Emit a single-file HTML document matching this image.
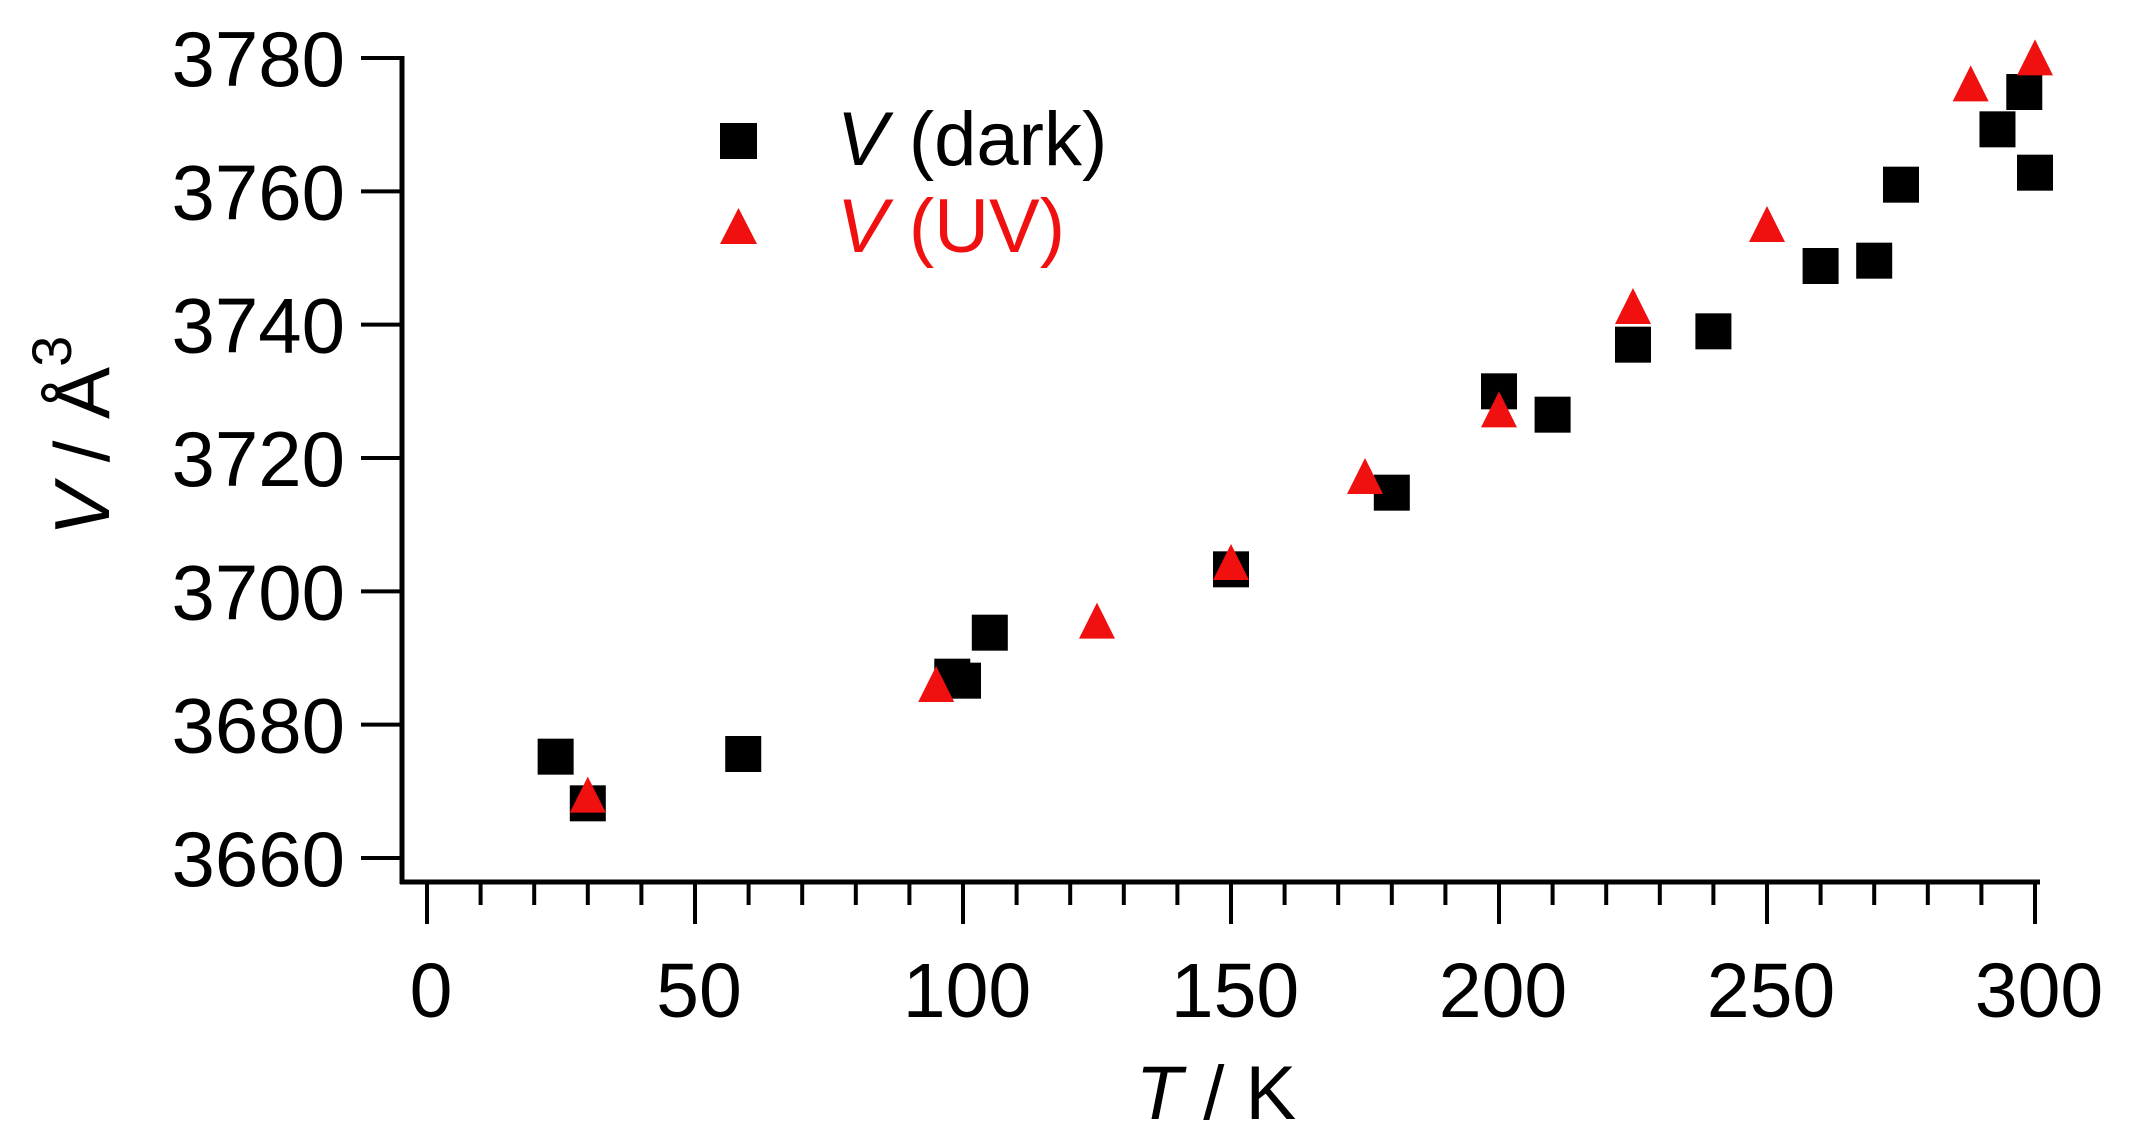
<!DOCTYPE html>
<html><head><meta charset="utf-8"><style>
html,body{margin:0;padding:0;background:#fff;}
svg{display:block;font-family:"Liberation Sans",Arial,sans-serif;}
</style></head><body>
<svg id="chart" width="2138" height="1140" viewBox="0 0 2138 1140" xmlns="http://www.w3.org/2000/svg">
<g id="axes"></g>
<g id="marks"></g>
<g>
  <rect x="720" y="123" width="37" height="36" fill="#000"/>
  <text x="837" y="165" font-size="76" fill="#000"><tspan font-style="italic">V</tspan> (dark)</text>
  <polygon points="738.5,208 757,244 720,244" fill="#f01010"/>
  <text x="837" y="252" font-size="76" fill="#f01010"><tspan font-style="italic">V</tspan> (UV)</text>
</g>
<text x="1216" y="1119" font-size="76" text-anchor="middle"><tspan font-style="italic">T</tspan> / K</text>
<text transform="translate(109,536) rotate(-90)" font-size="78"><tspan font-style="italic">V</tspan> / Å<tspan font-size="56" dy="-38">3</tspan></text>
</svg>
<script>
const xTicks = [0,50,100,150,200,250,300];
const yTicks = [3660,3680,3700,3720,3740,3760,3780];
const darkT = [24,30,59,98,100,105,150,180,200,210,225,240,260,270,275,293,298,300];
const darkV = [3675.2,3668.2,3675.6,3687.2,3686.6,3693.8,3703.3,3714.8,3730,3726.5,3737,3739,3748.8,3749.6,3761,3769.3,3774.9,3762.8];
const uvT = [30,95,125,150,175,200,225,250,288,300];
const uvV = [3669.2,3685.8,3695.3,3704.1,3717,3727,3742.5,3754.8,3775.9,3779.8];

const NS='http://www.w3.org/2000/svg';
const X0=427, XS=(2035-427)/300;
const Y0=858, YS=800/120;
const xs=t=>X0+t*XS;
const ys=v=>Y0-(v-3660)*YS;
function mk(tag,attrs,parent){const e=document.createElementNS(NS,tag);for(const k in attrs)e.setAttribute(k,attrs[k]);parent.appendChild(e);return e;}
const axes=document.getElementById('axes');
const marks=document.getElementById('marks');
let l=mk('line',{x1:402,y1:56,x2:402,y2:884,stroke:'#000','stroke-width':5},axes);


l=mk('line',{x1:400,y1:882,x2:2040,y2:882,stroke:'#000','stroke-width':5},axes);


for(let t=0;t<=300;t+=10){
  const major=t%50===0;
  const tk=mk('line',{x1:xs(t),y1:882,x2:xs(t),y2:major?924:905,stroke:'#000','stroke-width':4},axes);
  
  
}
xTicks.forEach(t=>{
  const tx=mk('text',{x:xs(t)+4,y:1017,'font-size':77,'text-anchor':'middle'},axes);
  tx.textContent=t;
  
  
});
yTicks.forEach(v=>{
  const tk=mk('line',{x1:361,y1:ys(v),x2:402,y2:ys(v),stroke:'#000','stroke-width':4},axes);
  
  
  const tx=mk('text',{x:345,y:ys(v)+28,'font-size':78,'text-anchor':'end'},axes);
  tx.textContent=v;
  
  
});
darkT.forEach((t,i)=>{
  const r=mk('rect',{x:xs(t)-18,y:ys(darkV[i])-18,width:36,height:36,fill:'#000'},marks);
  
  
});
uvT.forEach((t,i)=>{
  const cx=xs(t), cy=ys(uvV[i]);
  const p=mk('polygon',{points:`${cx},${cy-20} ${cx+18},${cy+16} ${cx-18},${cy+16}`,fill:'#f01010'},marks);
  
  
});
</script>
</body></html>
